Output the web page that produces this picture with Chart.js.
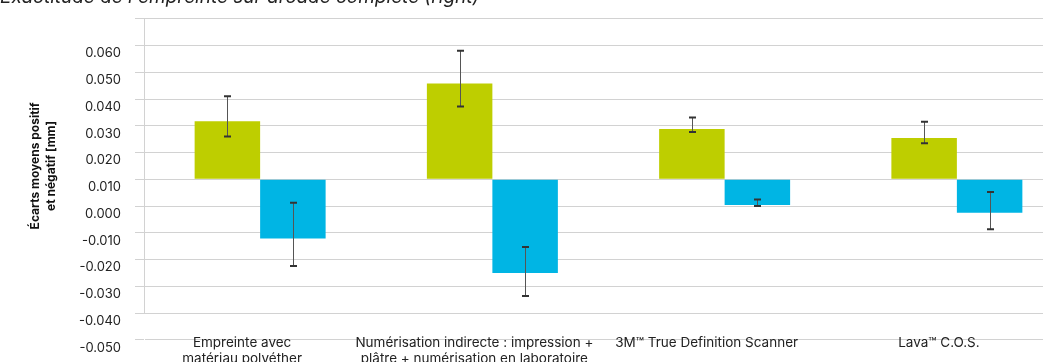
<!DOCTYPE html>
<html>
<head>
<meta charset="utf-8">
<script src="https://cdn.jsdelivr.net/npm/chart.js@4.4.0/dist/chart.umd.min.js"></script>
<style>
  html, body { margin: 0; padding: 0; background: #fff; overflow: hidden; }
  #wrap { position: relative; width: 1043px; height: 362px; overflow: hidden; }
  #chart { position: absolute; left: 0; top: -22px; }
</style>
</head>
<body>
<div id="wrap"><canvas id="chart" width="1080" height="389"></canvas></div>
<script>
// categories
const categories = [
    ['Empreinte avec', 'matériau polyéther'],
    ['Numérisation indirecte : impression +', 'plâtre + numérisation en laboratoire'],
    '3M™ True Definition Scanner',
    'Lava™ C.O.S.'
];

// values as read on the axis (bars start from the 0.010 line)
const barBase = 0.010;
const positiveMean = [0.0317, 0.0458, 0.0288, 0.0254];
const positiveLow  = [0.0260, 0.0372, 0.0277, 0.0235];
const positiveHigh = [0.0410, 0.0581, 0.0331, 0.0315];

const negativeMean = [-0.0121, -0.0250, 0.0004, -0.0025];
const negativeLow  = [-0.0224, -0.0336, 0.0000, -0.0087];
const negativeHigh = [0.0012, -0.0153, 0.0024, 0.0052];

// y ticks, bottom to top (top line carries no label, -0.050 sits under the last grid line)
const yTickValues = [-0.05, -0.04, -0.03, -0.02, -0.01, 0.0, 0.01, 0.02, 0.03, 0.04, 0.05, 0.06, 0.07];
const yTickLabels = ['-0.050', '-0.040', '-0.030', '-0.020', '-0.010', '0.000',
                     '0.010', '0.020', '0.030', '0.040', '0.050', '0.060', ''];

const FONT = 'Inter, "Liberation Sans", Arial, sans-serif';

// draws the error bars from the y scale
const errorBars = {
    id: 'errorBars',
    afterDatasetsDraw(chart) {
        const ctx = chart.ctx;
        const y = chart.scales.y;
        chart.data.datasets.forEach((ds, di) => {
            const meta = chart.getDatasetMeta(di);
            meta.data.forEach((bar, i) => {
                const x = Math.round(bar.x) + 0.5;
                const yLo = y.getPixelForValue(ds.errLow[i]);
                const yHi = y.getPixelForValue(ds.errHigh[i]);
                ctx.save();
                ctx.strokeStyle = '#555';
                ctx.lineWidth = 1;
                ctx.beginPath();
                ctx.moveTo(x, yLo);
                ctx.lineTo(x, yHi);
                ctx.stroke();
                ctx.strokeStyle = '#333';
                ctx.lineWidth = 2;
                ctx.beginPath();
                ctx.moveTo(x - 3.5, yLo);
                ctx.lineTo(x + 3.5, yLo);
                ctx.moveTo(x - 3.5, yHi);
                ctx.lineTo(x + 3.5, yHi);
                ctx.stroke();
                ctx.restore();
            });
        });
    }
};

new Chart(document.getElementById('chart'), {
    type: 'bar',
    data: {
        labels: categories,
        datasets: [{
            label: 'Écart positif',
            data: positiveMean,
            base: barBase,
            errLow: positiveLow,
            errHigh: positiveHigh,
            backgroundColor: '#bece00'
        }, {
            label: 'Écart négatif',
            data: negativeMean,
            base: barBase,
            errLow: negativeLow,
            errHigh: negativeHigh,
            backgroundColor: '#00b5e4'
        }]
    },
    options: {
        responsive: false,
        animation: false,
        devicePixelRatio: 1,
        layout: { padding: { left: 0, right: 7, top: 0, bottom: 0 } },
        datasets: {
            bar: { categoryPercentage: 0.564, barPercentage: 1.0 }
        },
        plugins: {
            legend: { display: false },
            tooltip: { enabled: false },
            title: {
                display: true,
                text: "Exactitude de l'empreinte sur arcade complète (right)",
                align: 'start',
                color: '#222',
                font: { family: FONT, size: 19, style: 'italic', weight: 'normal' },
                padding: { top: 8, bottom: 10 }
            }
        },
        scales: {
            x: {
                afterFit: s => { s.height = 54; },
                grid: { display: false, drawTicks: false },
                border: { display: false },
                ticks: {
                    color: '#222',
                    font: { family: FONT, size: 13.5 },
                    padding: 22,
                    labelOffset: -18,
                    maxRotation: 0,
                    minRotation: 0,
                    autoSkip: false
                }
            },
            y: {
                min: -0.04,
                max: 0.07,
                afterBuildTicks: s => { s.ticks = yTickValues.map(v => ({ value: v })); },
                afterFit: s => { s.width = 144; },
                grid: { color: '#d2d2d2', lineWidth: 1, tickLength: 9 },
                border: { display: true, color: '#d2d2d2', width: 1 },
                ticks: {
                    autoSkip: false,
                    color: '#222',
                    font: { family: FONT, size: 13 },
                    padding: 14,
                    labelOffset: 8,
                    callback: (v, i) => yTickLabels[i]
                },
                title: {
                    display: true,
                    text: ['Écarts moyens positif', 'et négatif [mm]'],
                    color: '#111',
                    font: { family: FONT, size: 12, weight: 'bold', lineHeight: 1.35 },
                    padding: { top: 27, bottom: 0 }
                }
            }
        }
    },
    plugins: [errorBars]
});
</script>
</body>
</html>
